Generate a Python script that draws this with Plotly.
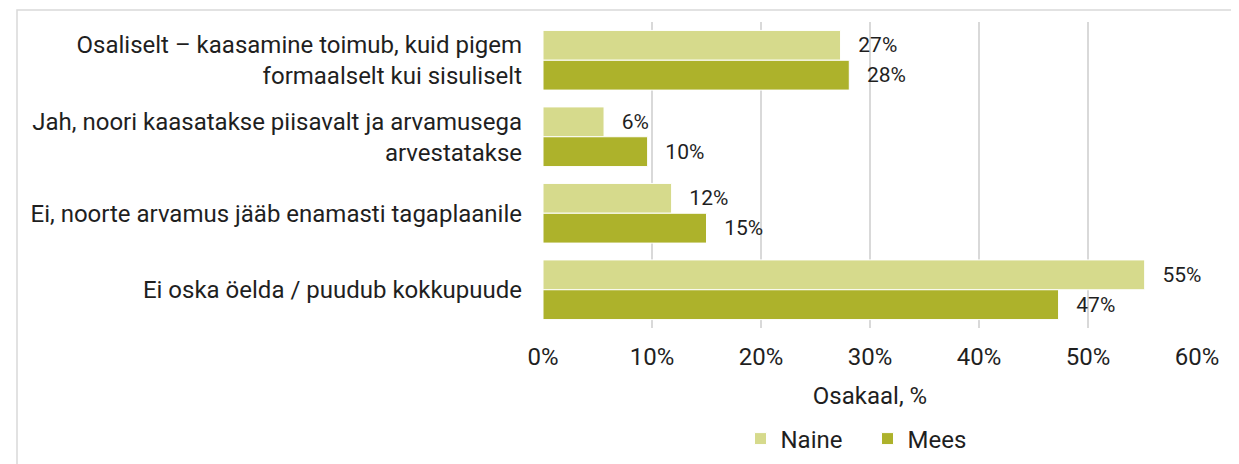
import plotly.graph_objects as go

categories = [
    "Osaliselt – kaasamine toimub, kuid pigem<br>formaalselt kui sisuliselt",
    "Jah, noori kaasatakse piisavalt ja arvamusega<br>arvestatakse",
    "Ei, noorte arvamus jääb enamasti tagaplaanile",
    "Ei oska öelda / puudub kokkupuude",
]
naine = [27.3, 5.6, 11.8, 55.2]
mees = [28.1, 9.6, 15.0, 47.3]
naine_labels = ["27%", "6%", "12%", "55%"]
mees_labels = ["28%", "10%", "15%", "47%"]
x_ticks = [0, 10, 20, 30, 40, 50, 60]
x_ticktext = ["0%", "10%", "20%", "30%", "40%", "50%", "60%"]

FONT = "Roboto"
TXT = "#1f1f1f"
OFF = 8  # browser default body margin
PAD = "  \u2009"

fig = go.Figure()
fig.add_trace(go.Bar(
    y=categories, x=naine, name="Naine", orientation="h",
    marker=dict(color="#D6DA8C", line=dict(color="white", width=1)),
    text=[PAD + t for t in naine_labels], textposition="outside",
    textfont=dict(family=FONT, size=21, color=TXT), cliponaxis=False,
))
fig.add_trace(go.Bar(
    y=categories, x=mees, name="Mees", orientation="h",
    marker=dict(color="#ADB22B", line=dict(color="white", width=1)),
    text=[PAD + t for t in mees_labels], textposition="outside",
    textfont=dict(family=FONT, size=21, color=TXT), cliponaxis=False,
))

W, H = 1239 - OFF, 464 - OFF
L, R, T, B = 543 - OFF, 1197 - OFF, 22 - OFF, 328 - OFF
pw, ph = R - L, B - T

fig.update_layout(
    width=W, height=H,
    margin=dict(l=L, r=W - R, t=T, b=H - B, autoexpand=False),
    paper_bgcolor="white", plot_bgcolor="white",
    barmode="group", bargap=0.22, bargroupgap=0.0,
    font=dict(family=FONT, size=24, color=TXT),
    xaxis=dict(
        range=[0, 60], tickvals=x_ticks, ticktext=x_ticktext,
        showgrid=True, gridcolor="#d9d9d9", gridwidth=1.5,
        zeroline=False, showline=False, ticks="",
        ticklabelstandoff=12,
        tickfont=dict(size=24, color=TXT),
        title=dict(text="Osakaal, %", font=dict(size=24, color=TXT), standoff=17),
    ),
    yaxis=dict(
        autorange="reversed", showgrid=False, zeroline=False, showline=False,
        ticks="", ticklabelstandoff=20, tickfont=dict(size=24, color=TXT),
    ),
    legend=dict(
        orientation="h", x=(867.5 - 543) / pw, xanchor="center",
        y=(328 - 439) / ph, yanchor="middle",
        font=dict(size=24, color=TXT), traceorder="normal",
        itemwidth=30, entrywidth=82, entrywidthmode="pixels",
    ),
    shapes=[dict(
        type="rect", xref="paper", yref="paper",
        x0=(OFF + 1 - L) / pw, x1=(W + 5 - L) / pw,
        y0=(B - (H + 5)) / ph, y1=(B - (10 - OFF)) / ph,
        line=dict(color="#d9d9d9", width=1.5), fillcolor="rgba(0,0,0,0)",
        layer="below",
    )],
)

fig.write_html("out.html")
